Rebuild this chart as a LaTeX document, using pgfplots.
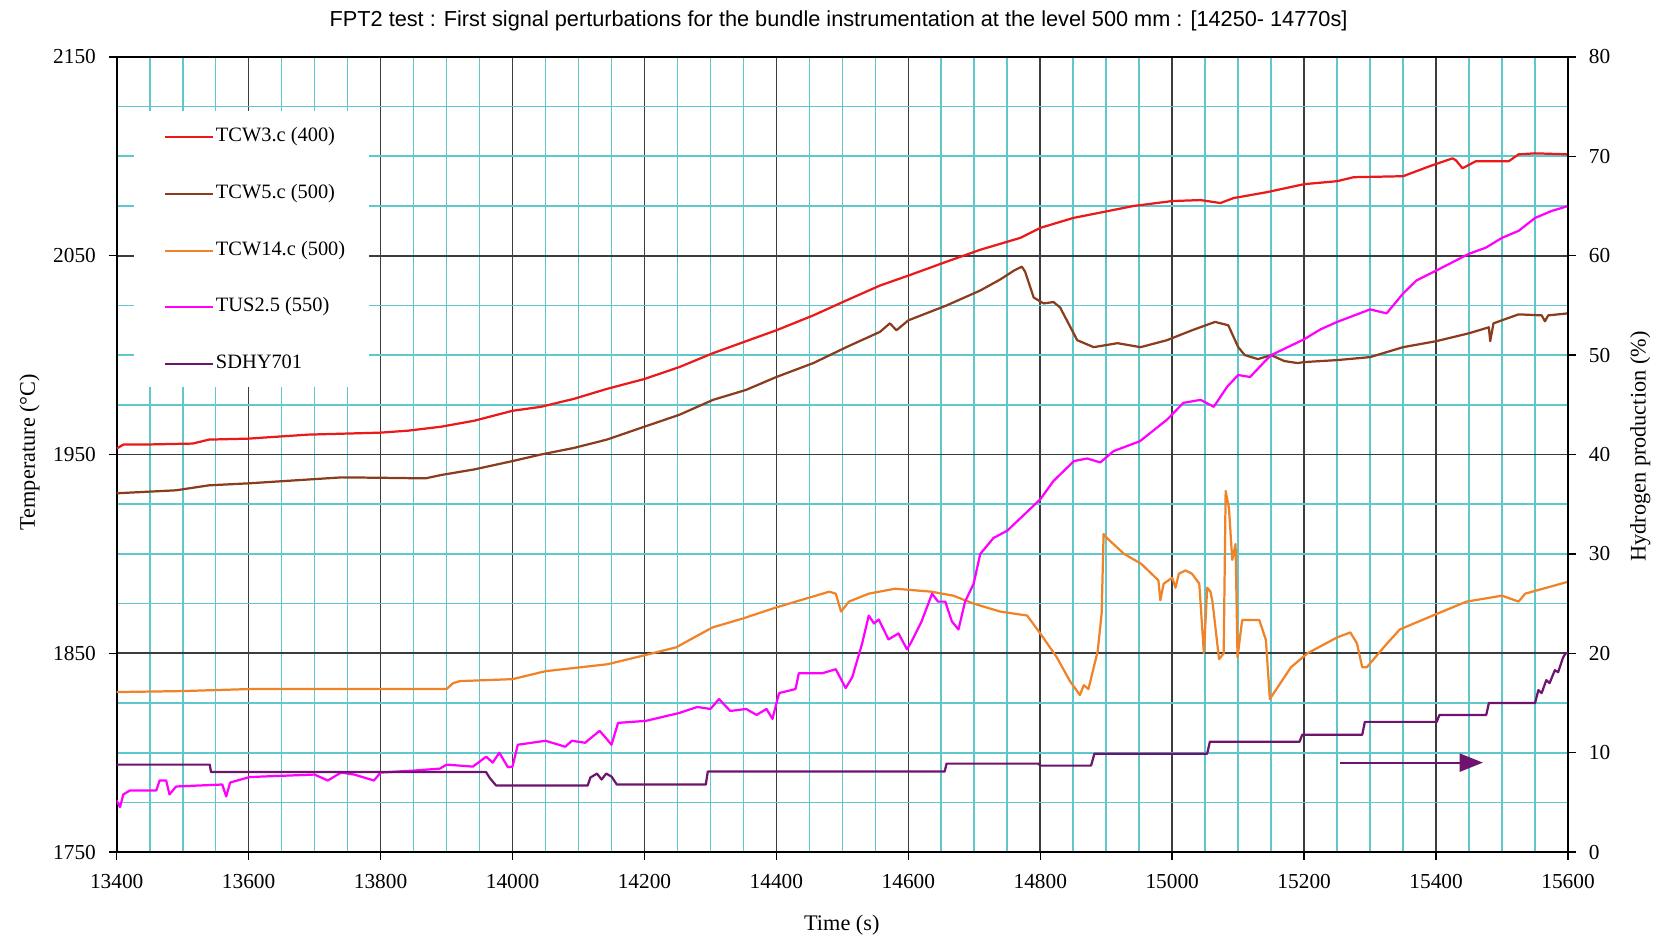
\documentclass[border=0pt]{standalone}
\usepackage{fontspec}
\setmainfont{Liberation Serif}
\newfontfamily\sansfont{Liberation Sans}
\usepackage{pgfplots}
\pgfplotsset{compat=1.18}
\usetikzlibrary{arrows.meta}

\definecolor{majorgrid}{RGB}{60,60,60}
\definecolor{minorgrid}{RGB}{95,200,205}
\definecolor{tcwred}{RGB}{235,25,25}
\definecolor{tcwbrown}{RGB}{140,60,30}
\definecolor{tcworange}{RGB}{240,130,40}
\definecolor{tusmagenta}{RGB}{255,0,255}
\definecolor{sdhypurple}{RGB}{110,20,110}

\pgfplotsset{
  signal/.style={line width=1.2pt, line join=round},
}

\begin{document}
\begin{tikzpicture}
\path[use as bounding box] (-2.21,-1.604) rectangle (29.15,16.136);
\begin{axis}[
  scale only axis, width=27.484cm, height=15.058cm,
  xmin=13400, xmax=15600, ymin=1750, ymax=2150,
  xtick={13400,13600,...,15600}, ytick={1750,1850,...,2150},
  minor x tick num=3, minor y tick num=3,
  grid=both,
  major grid style={draw=majorgrid, line width=0.9pt},
  minor grid style={draw=minorgrid, line width=0.9pt},
  axis line style={black, line width=1pt},
  tick style={black, line width=0.8pt},
  major tick length=0.15cm, minor tick length=0pt, tick align=outside,
  xtick pos=left, ytick pos=left,
  scaled x ticks=false, scaled y ticks=false,
  /pgf/number format/1000 sep={},
  /pgf/number format/assume math mode=true,
  tick label style={font=\fontsize{11.5}{13}\selectfont},
  xticklabel style={yshift=-0.15cm},
  yticklabel style={xshift=-0.12cm},
  xlabel={Time (s)},
  xlabel style={at={(axis description cs:0.4996,-0.0919)}, anchor=center, font=\fontsize{12}{14}\selectfont},
  ylabel={Temperature (°C)},
  ylabel style={at={(axis description cs:-0.06,0.503)}, anchor=center, font=\fontsize{12}{14}\selectfont},
  title={FPT2 test : First signal perturbations for the bundle instrumentation at the level 500 mm : [14250- 14770s]},
  every axis title shift=0pt,
  title style={at={(axis description cs:0.4974,1.045)}, anchor=center, font=\sansfont\fontsize{11.7}{13}\selectfont},
  legend cell align=left,
  legend image code/.code={\draw[#1] (0cm,0cm) -- (0.9cm,0cm);},
  legend style={at={(axis description cs:0.0324,0.9100)}, anchor=north west,
    draw=none, fill=none, inner sep=0pt, row sep=0.7575cm, column sep=0.04cm,
    nodes={inner sep=0pt, text height=7pt, text depth=2pt, font=\fontsize{11}{13}\selectfont}},
]
% white panel behind the legend
\fill[white] (axis cs:13426,1984) rectangle (axis cs:13783,2122.8);

% TCW3.c (400)
\addplot[signal, tcwred] coordinates {
(13400,1953) (13410,1955) (13440,1955) (13515,1955.5) (13540,1957.5) (13600,1958)
(13690,1960) (13800,1961) (13842,1962) (13892,1964) (13942,1967) (14000,1972)
(14043,1974) (14093,1978) (14143,1983) (14200,1988) (14253,1994) (14304,2001)
(14354,2007) (14400,2012.5) (14456,2020) (14506,2027.5) (14557,2035) (14600,2040)
(14658,2047) (14709,2053) (14770,2059) (14800,2064) (14850,2069) (14941,2075)
(15000,2077.5) (15043,2078) (15073,2076.5) (15093,2079) (15144,2082) (15200,2086)
(15250,2087.5) (15275,2089.5) (15350,2090) (15390,2095) (15425,2099) (15430,2098)
(15440,2094) (15460,2097.5) (15510,2097.5) (15525,2101) (15550,2101.5) (15600,2101)
};
\addlegendentry{TCW3.c (400)}

% TCW5.c (500)
\addplot[signal, tcwbrown] coordinates {
(13400,1930.5) (13490,1932) (13540,1934.5) (13600,1935.5) (13741,1938.5) (13800,1938.3)
(13868,1938) (13892,1939.7) (13942,1942.5) (14000,1946.7) (14043,1950) (14093,1953.3)
(14143,1957.5) (14200,1964) (14253,1970) (14304,1977.5) (14354,1982.5) (14400,1989)
(14456,1996) (14506,2004) (14557,2011.7) (14572,2016) (14582,2012.5) (14600,2017.5)
(14658,2025) (14709,2032.5) (14739,2038) (14760,2042.5) (14772,2044.5) (14777,2042)
(14790,2029) (14805,2026) (14820,2026.7) (14830,2024) (14856,2007.5) (14881,2004)
(14917,2006) (14952,2004) (14992,2007.5) (15030,2012.5) (15065,2016.7) (15085,2015)
(15100,2004) (15110,2000) (15130,1998) (15150,2000) (15170,1997) (15190,1996)
(15200,1996.5) (15250,1997.5) (15300,1999) (15350,2004) (15400,2007) (15450,2011)
(15480,2014) (15482,2007) (15487,2016) (15525,2020.5) (15560,2020) (15565,2017)
(15570,2020) (15600,2021)
};
\addlegendentry{TCW5.c (500)}

% TCW14.c (500)
\addplot[signal, tcworange] coordinates {
(13400,1830.5) (13500,1831) (13600,1832) (13800,1832) (13900,1832) (13910,1835)
(13920,1836) (14000,1837) (14050,1841) (14144,1844.5) (14200,1849) (14248,1853)
(14303,1863) (14349,1867.5) (14399,1873) (14480,1881) (14490,1880) (14498,1871)
(14510,1876) (14540,1880) (14580,1882.5) (14635,1881) (14668,1879) (14699,1875)
(14739,1871) (14780,1869) (14800,1860) (14825,1848) (14845,1836) (14860,1829)
(14866,1834) (14873,1832) (14887,1851) (14893,1870) (14896,1910) (14901,1908)
(14927,1900) (14953,1895) (14979,1886.7) (14982,1876.7) (14987,1885) (15000,1888)
(15005,1883) (15010,1890) (15020,1891.7) (15030,1890) (15041,1885) (15043,1875)
(15048,1850) (15053,1883) (15058,1881) (15061,1876) (15071,1847) (15078,1850)
(15081,1931.7) (15086,1923) (15091,1897) (15096,1905) (15099,1848) (15106,1866.7)
(15132,1866.7) (15142,1856.7) (15148,1827) (15180,1843) (15205,1850) (15250,1858)
(15270,1860.5) (15280,1855) (15288,1843) (15295,1843) (15325,1854.7) (15345,1862)
(15400,1869.7) (15446,1876) (15500,1879) (15525,1876) (15535,1880) (15600,1886)
};
\addlegendentry{TCW14.c (500)}

% TUS2.5 (550)
\addplot[signal, tusmagenta] coordinates {
(13400,1776) (13405,1772.6) (13410,1779) (13420,1781) (13460,1781) (13465,1786)
(13475,1786) (13480,1779) (13490,1783) (13560,1784) (13566,1778) (13572,1785)
(13601,1787.7) (13620,1788) (13700,1789) (13720,1786) (13740,1790) (13760,1789)
(13790,1786) (13800,1790) (13850,1791) (13890,1792) (13900,1794) (13940,1793)
(13960,1798) (13970,1795) (13980,1800) (13993,1792.7) (14000,1793) (14008,1804)
(14050,1806) (14080,1803) (14090,1806) (14110,1805) (14132,1811) (14140,1808)
(14150,1804) (14160,1815) (14202,1816) (14253,1820) (14280,1823) (14300,1822)
(14313,1827) (14330,1821) (14354,1822) (14370,1819) (14385,1822) (14394,1817)
(14404,1830) (14429,1832) (14434,1840) (14470,1840) (14490,1842) (14505,1832.5)
(14515,1838) (14530,1855) (14540,1869) (14548,1865) (14555,1867) (14570,1857)
(14585,1860) (14598,1852) (14605,1856) (14620,1866) (14636,1880) (14645,1876)
(14656,1876) (14666,1866) (14676,1862) (14686,1876) (14699,1885) (14709,1900)
(14729,1908) (14750,1911.7) (14770,1918) (14800,1927.5) (14820,1936.7) (14851,1946.7)
(14871,1948) (14891,1946) (14911,1951.7) (14951,1956.7) (14992,1967.5) (15017,1976)
(15043,1977.5) (15063,1974) (15083,1984) (15100,1990) (15118,1989) (15140,1996.7)
(15150,2000) (15200,2008) (15225,2013) (15250,2016.7) (15300,2023) (15325,2021)
(15350,2031) (15370,2037.5) (15400,2042.5) (15450,2051) (15475,2054) (15500,2059)
(15525,2062.5) (15550,2069) (15575,2072.5) (15600,2075)
};
\addlegendentry{TUS2.5 (550)}

\addlegendimage{signal, sdhypurple}
\addlegendentry{SDHY701}
\end{axis}

\begin{axis}[
  scale only axis, width=27.484cm, height=15.058cm,
  xmin=13400, xmax=15600, ymin=0, ymax=80,
  axis x line=none, axis y line*=right,
  ytick={0,10,...,80},
  axis line style={black, line width=1pt},
  tick style={black, line width=0.8pt},
  major tick length=0.15cm, tick align=outside,
  /pgf/number format/assume math mode=true,
  tick label style={font=\fontsize{11.5}{13}\selectfont},
  yticklabel style={xshift=0.12cm},
  ylabel={Hydrogen production (\%)},
  ylabel style={at={(axis description cs:1.0497,0.51)}, anchor=center, font=\fontsize{12}{14}\selectfont},
]
% SDHY701
\addplot[signal, sdhypurple] coordinates {
(13400,8.8) (13541,8.8) (13543,8.05) (13960,8.05) (13965,7.5) (13975,6.7)
(14114,6.7) (14118,7.5) (14128,7.9) (14135,7.3) (14142,7.9) (14150,7.6)
(14158,6.8) (14293,6.8) (14296,8.1) (14655,8.1) (14658,8.9) (14797,8.9)
(14800,8.7) (14877,8.7) (14882,9.9) (15053,9.9) (15057,11.1) (15193,11.1)
(15197,11.8) (15288,11.8) (15292,13.1) (15401,13.1) (15405,13.8) (15476,13.8)
(15480,15.0) (15550,15.0) (15555,16.3) (15560,16.0) (15567,17.3) (15572,17.0)
(15580,18.3) (15585,18.1) (15592,19.5) (15596,20.0) (15600,20.0)
};
% arrow pointing at the right-hand scale
\addplot[signal, sdhypurple, -{Triangle[length=0.44cm,width=0.34cm]}] coordinates {
(15254,9.0) (15471,9.0)
};
\end{axis}
\end{tikzpicture}
\end{document}
